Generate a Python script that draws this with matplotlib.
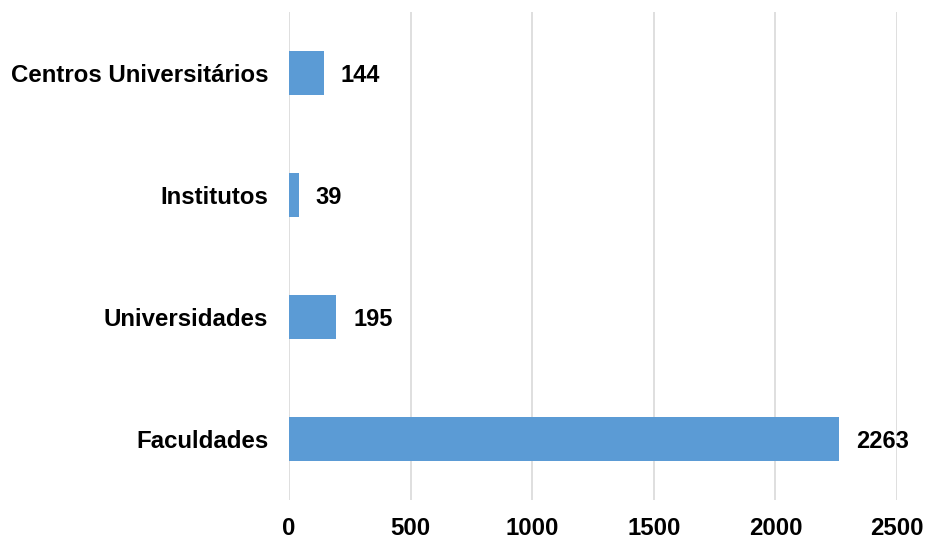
import matplotlib.pyplot as plt

categorias = ["Faculdades", "Universidades", "Institutos", "Centros Universitários"]
valores = [2263, 195, 39, 144]
ticks_x = [0, 500, 1000, 1500, 2000, 2500]

plt.rcParams['font.family'] = ['Liberation Sans', 'DejaVu Sans']

fig = plt.figure(figsize=(9.27, 5.38), dpi=100)
ax = fig.add_axes([0.3118, 0.0706, 0.6558, 0.9071])

pos = range(len(categorias))
ax.barh(pos, valores, height=0.36, color="#5B9BD5", zorder=3)

for p, v in zip(pos, valores):
    ax.annotate(str(v), (v, p), xytext=(12, 0), textcoords="offset points",
                va="center_baseline", ha="left", fontsize=17, fontweight="bold")

ax.set_xlim(0, 2500)
ax.set_ylim(-0.5, 3.5)
ax.set_xticks(ticks_x)
ax.set_yticks(list(pos))
ax.set_yticklabels(categorias)
ax.grid(axis="x", color="#D9D9D9", linewidth=1.2, zorder=0)
for s in ax.spines.values():
    s.set_visible(False)
ax.tick_params(length=0, labelsize=17.3)
ax.tick_params(axis="x", pad=12)
ax.tick_params(axis="y", pad=15)
for lbl in ax.get_xticklabels() + ax.get_yticklabels():
    lbl.set_fontweight("bold")

fig.savefig("out.png", dpi=100)
